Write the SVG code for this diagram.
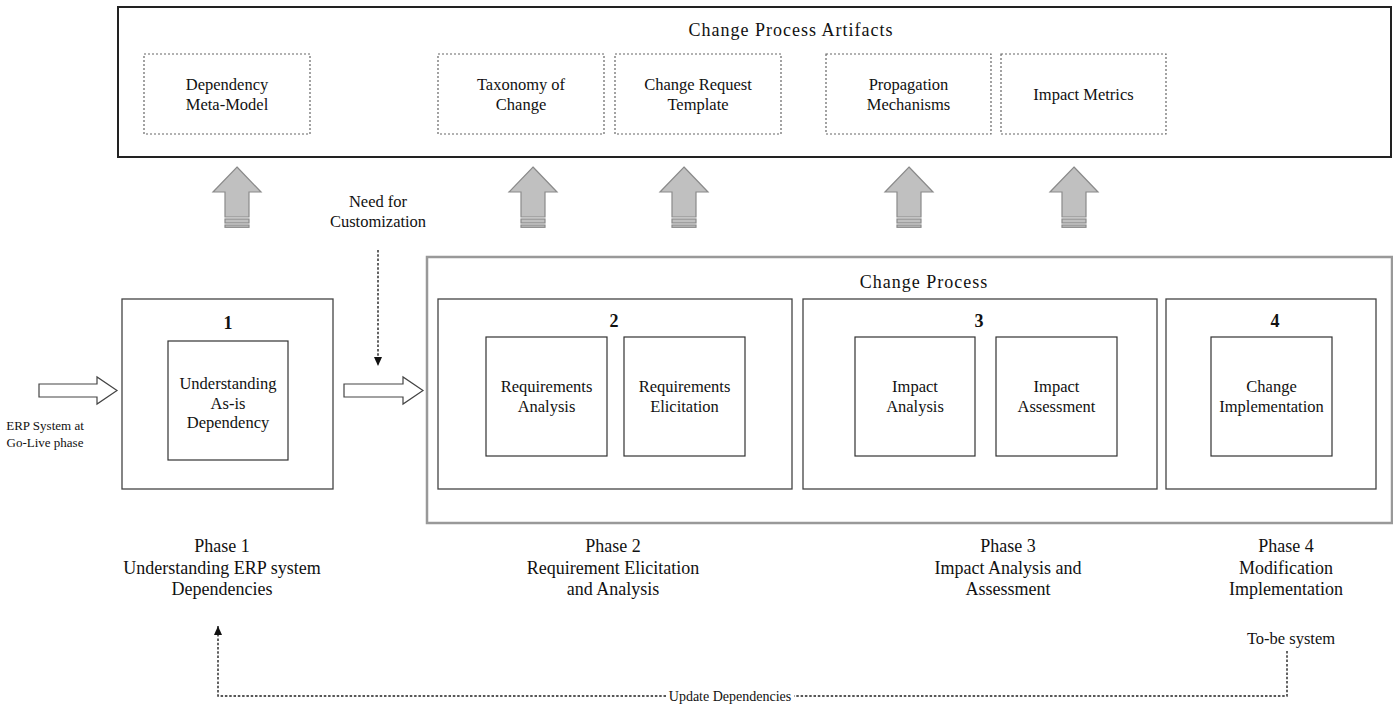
<svg xmlns="http://www.w3.org/2000/svg" width="1393" height="705" viewBox="0 0 1393 705">
<style>
text{font-family:"Liberation Serif","Times New Roman",serif;fill:#111;text-anchor:middle}
.t{font-size:18px;letter-spacing:1px}
.l{font-size:16.5px}
.p{font-size:18px}
.s{font-size:13px}
.u{font-size:14px}
.n{font-size:18px;font-weight:bold}
.outer{fill:#fff;stroke:#222;stroke-width:2}
.cp{fill:#fff;stroke:#999;stroke-width:2.5}
.dash{fill:#fff;stroke:#666;stroke-width:1.2;stroke-dasharray:2,2}
.ph{fill:#fff;stroke:#444;stroke-width:1.3}
.in{fill:#fff;stroke:#333;stroke-width:1.2}
.up{fill:#c0c0c0;stroke:#8a8a8a;stroke-width:1.2}
.hol{fill:#fff;stroke:#444;stroke-width:1.2}
.dl{fill:none;stroke:#222;stroke-width:1.4;stroke-dasharray:2.5,1.8}
</style>
<defs>
<marker id="ah" markerWidth="10" markerHeight="10" refX="9" refY="5" orient="auto" markerUnits="userSpaceOnUse">
<path d="M0,1 L9,5 L0,9 Z" fill="#111"/>
</marker>
<g id="uparrow">
<path d="M0,0 L24,25 L12,25 L12,50 L-12,50 L-12,25 L-24,25 Z"/>
<rect x="-12" y="52" width="24" height="4"/>
<rect x="-12" y="58" width="24" height="2.3"/>
</g>
</defs>

<g id="artifacts">
<rect class="outer" x="118" y="7" width="1273" height="150"/>
<text class="t" x="791" y="36">Change Process Artifacts</text>
</g>
<g id="art-dependency-meta-model">
<rect class="dash" x="144" y="54" width="166" height="80"/>
<text class="l" x="227" y="89.5">Dependency</text>
<text class="l" x="227" y="109.5">Meta-Model</text>
</g>
<g id="art-taxonomy">
<rect class="dash" x="438" y="54" width="166" height="80"/>
<text class="l" x="521" y="89.5">Taxonomy of</text>
<text class="l" x="521" y="109.5">Change</text>
</g>
<g id="art-change-request">
<rect class="dash" x="615" y="54" width="166" height="80"/>
<text class="l" x="698" y="89.5">Change Request</text>
<text class="l" x="698" y="109.5">Template</text>
</g>
<g id="art-propagation">
<rect class="dash" x="826" y="54" width="165" height="80"/>
<text class="l" x="908.5" y="89.5">Propagation</text>
<text class="l" x="908.5" y="109.5">Mechanisms</text>
</g>
<g id="art-impact-metrics">
<rect class="dash" x="1001" y="54" width="165" height="80"/>
<text class="l" x="1083.5" y="99.5">Impact Metrics</text>
</g>

<g id="change-process">
<rect class="cp" x="427" y="257" width="965" height="266"/>
<text class="t" x="924" y="288">Change Process</text>
</g>

<g id="phase1">
<rect class="ph" x="122" y="299" width="211" height="190"/>
<text class="n" x="228" y="329">1</text>
<rect class="in" x="168" y="341" width="120" height="119"/>
<text class="l" x="228" y="389">Understanding</text>
<text class="l" x="228" y="408.5">As-is</text>
<text class="l" x="228" y="427.5">Dependency</text>
</g>

<g id="phase2">
<rect class="ph" x="438" y="299" width="354" height="190"/>
<text class="n" x="614" y="327">2</text>
<rect class="in" x="486" y="337" width="121" height="119"/>
<text class="l" x="546.5" y="391.5">Requirements</text>
<text class="l" x="546.5" y="411.5">Analysis</text>
<rect class="in" x="624" y="337" width="121" height="119"/>
<text class="l" x="684.5" y="391.5">Requirements</text>
<text class="l" x="684.5" y="411.5">Elicitation</text>
</g>

<g id="phase3">
<rect class="ph" x="803" y="299" width="354" height="190"/>
<text class="n" x="979" y="327">3</text>
<rect class="in" x="855" y="337" width="120" height="119"/>
<text class="l" x="915" y="391.5">Impact</text>
<text class="l" x="915" y="411.5">Analysis</text>
<rect class="in" x="996" y="337" width="121" height="119"/>
<text class="l" x="1056.5" y="391.5">Impact</text>
<text class="l" x="1056.5" y="411.5">Assessment</text>
</g>

<g id="phase4">
<rect class="ph" x="1166" y="299" width="210" height="190"/>
<text class="n" x="1275" y="327">4</text>
<rect class="in" x="1211" y="337" width="121" height="119"/>
<text class="l" x="1271.5" y="391.5">Change</text>
<text class="l" x="1271.5" y="411.5">Implementation</text>
</g>

<g id="labels">
<text class="s" x="45" y="430">ERP System at</text>
<text class="s" x="45" y="447">Go-Live phase</text>
<text class="l" x="378" y="206.5">Need for</text>
<text class="l" x="378" y="226.5">Customization</text>
<text class="p" x="222" y="552">Phase 1</text>
<text class="p" x="222" y="574">Understanding ERP system</text>
<text class="p" x="222" y="595">Dependencies</text>
<text class="p" x="613" y="552">Phase 2</text>
<text class="p" x="613" y="574">Requirement Elicitation</text>
<text class="p" x="613" y="595">and Analysis</text>
<text class="p" x="1008" y="552">Phase 3</text>
<text class="p" x="1008" y="574">Impact Analysis and</text>
<text class="p" x="1008" y="595">Assessment</text>
<text class="p" x="1286" y="552">Phase 4</text>
<text class="p" x="1286" y="574">Modification</text>
<text class="p" x="1286" y="595">Implementation</text>
<text class="l" x="1291" y="644">To-be system</text>
<text class="u" x="730" y="700.5">Update Dependencies</text>
</g>

<g id="connectors">
<use href="#uparrow" class="up" x="237" y="167"/>
<use href="#uparrow" class="up" x="533" y="167"/>
<use href="#uparrow" class="up" x="684" y="167"/>
<use href="#uparrow" class="up" x="909" y="167"/>
<use href="#uparrow" class="up" x="1074" y="167"/>
<path class="hol" d="M39,384 H97 V377 L117,390.5 L97,404 V397 H39 Z"/>
<path class="hol" d="M344,384 H403 V377 L423,390.5 L403,404 V397 H344 Z"/>
<path class="dl" d="M378,250 V366" marker-end="url(#ah)"/>
<path class="dl" d="M1287,651 V696 H794"/>
<path class="dl" d="M666,696 H218 V626" marker-end="url(#ah)"/>
</g>
</svg>
